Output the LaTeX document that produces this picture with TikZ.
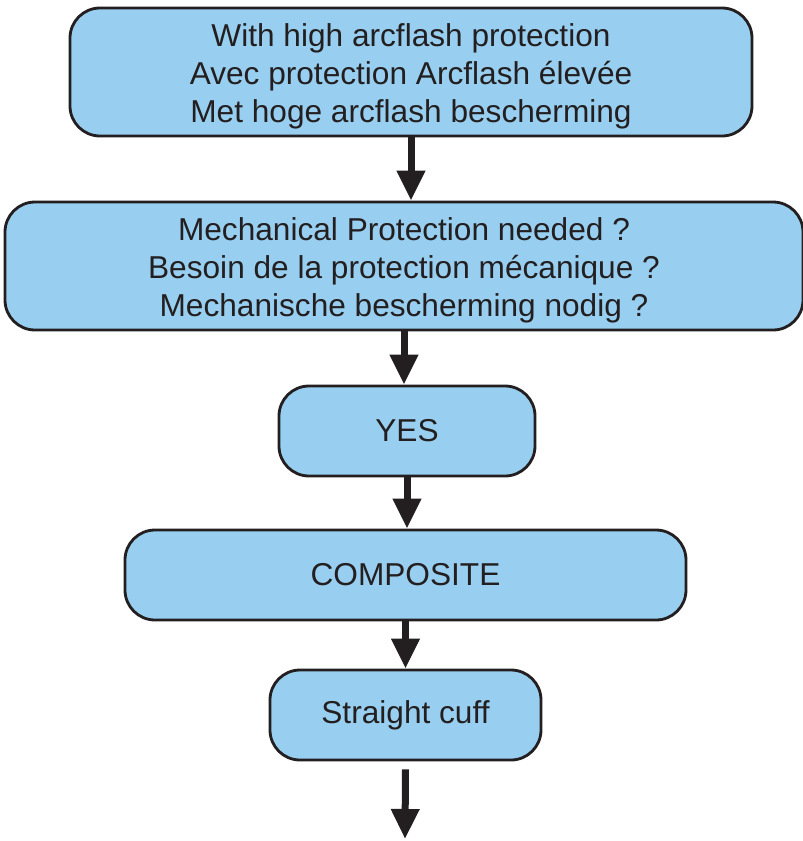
\documentclass[tikz,border=0pt]{standalone}
\usepackage{fontspec}
\setmainfont{Liberation Sans}
\usetikzlibrary{arrows.meta}
\definecolor{boxblue}{RGB}{152,207,240}
\definecolor{ink}{RGB}{35,31,32}
\begin{document}
\begin{tikzpicture}[auto,
    stage/.style ={rectangle, rounded corners=0.6cm, draw=ink, line width=1.6pt,
      fill=boxblue, text=ink, align=center,
      font=\fontsize{18}{21.6}\selectfont},
    flow/.style ={draw=ink, line width=0.14cm,
      -{Triangle[width=0.54cm,length=0.6cm]}}]
   \useasboundingbox (0,0) rectangle (16.04,-16.82);
   \node[stage, minimum width=13.64cm, minimum height=2.56cm] (high) at (8.22,-1.44)
     {\rule{0pt}{0.62cm}With high arcflash protection\\Avec protection Arcflash élevée\\Met hoge arcflash bescherming};
   \node[stage, minimum width=15.96cm, minimum height=2.56cm] (mech) at (8.08,-5.32)
     {\rule{0pt}{0.62cm}Mechanical Protection needed ?\\Besoin de la protection mécanique ?\\Mechanische bescherming nodig ?};
   \node[stage, minimum width=5.12cm, minimum height=1.8cm] (yes) at (8.14,-8.62) {YES};
   \node[stage, minimum width=11.22cm, minimum height=1.8cm] (comp) at (8.11,-11.5) {COMPOSITE};
   \node[stage, minimum width=5.42cm, minimum height=1.8cm] (cuff) at (8.11,-14.3) {Straight cuff};
   \coordinate (out) at (8.1,-16.78);
   \draw[flow] (high.south) to (high.south |- mech.north);
   \draw[flow] (mech.south) to (mech.south |- yes.north);
   \draw[flow] (yes.south) to (yes.south |- comp.north);
   \draw[flow] (comp.south) to (comp.south |- cuff.north);
   \draw[flow] ([yshift=-0.16cm]cuff.south) to (out);
 \end{tikzpicture}
\end{document}
